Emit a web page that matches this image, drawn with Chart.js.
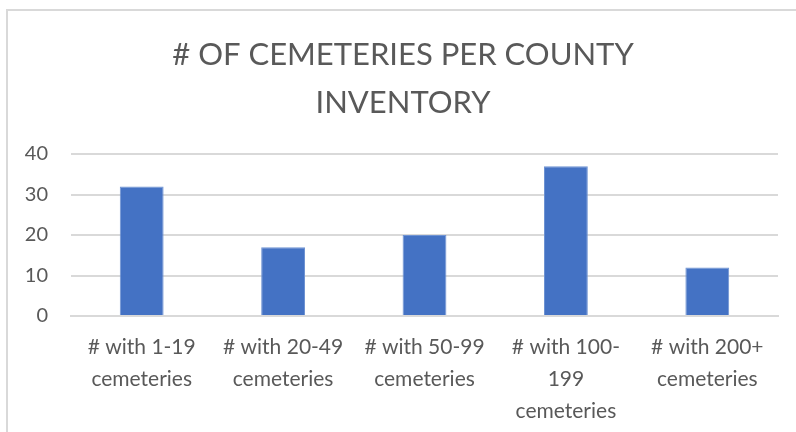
<!DOCTYPE html>
<html>
<head>
<meta charset="utf-8">
<script src="https://cdn.jsdelivr.net/npm/chart.js@4"></script>
<style>
  html, body { margin: 0; padding: 0; background: #ffffff; }
  #wrap { position: relative; width: 796px; height: 432px; overflow: hidden; }
  #frame { position: absolute; left: 6px; top: 9px; width: 900px; height: 600px;
           border-left: 2px solid #d9d9d9; border-top: 2px solid #d9d9d9; }
  canvas { position: absolute; left: 0; top: 0; }
</style>
</head>
<body>
<div id="wrap">
  <div id="frame"></div>
  <canvas id="c" width="796" height="432"></canvas>
</div>
<script>
const categories = [
  ["# with 1-19", "cemeteries"],
  ["# with 20-49", "cemeteries"],
  ["# with 50-99", "cemeteries"],
  ["# with 100-", "199", "cemeteries"],
  ["# with 200+", "cemeteries"]
];
const counts = [32, 17, 20, 37, 12];
const yTicks = [0, 10, 20, 30, 40];
const titleLines = ["# OF CEMETERIES PER COUNTY", "INVENTORY"];

new Chart(document.getElementById('c'), {
  type: 'bar',
  data: {
    labels: categories,
    datasets: [{
      data: counts,
      backgroundColor: '#4472C4',
      borderColor: '#6f93d3',
      borderWidth: 1,
      categoryPercentage: 1.0,
      barPercentage: 0.31
    }]
  },
  options: {
    responsive: false,
    animation: false,
    devicePixelRatio: 1,
    layout: { padding: { left: 10, right: 0, top: 0, bottom: 0 } },
    plugins: {
      legend: { display: false },
      tooltip: { enabled: false },
      title: {
        display: true,
        text: titleLines,
        color: '#595959',
        font: { family: 'Lato', size: 31, weight: 'normal', lineHeight: '48px' },
        padding: { top: 31, bottom: 27 }
      }
    },
    scales: {
      x: {
        grid: { display: false, drawTicks: false },
        border: { display: true, color: '#d9d9d9', width: 2 },
        ticks: {
          color: '#595959',
          font: { family: 'Lato', size: 21, lineHeight: '32px' },
          padding: 15,
          maxRotation: 0,
          autoSkip: false
        },
        afterFit: (s) => { s.height = 116; }
      },
      y: {
        min: 0,
        max: 40,
        afterBuildTicks: (s) => { s.ticks = yTicks.map(v => ({ value: v })); },
        grid: { color: '#d9d9d9', lineWidth: 2, drawTicks: false },
        border: { display: false },
        ticks: {
          color: '#595959',
          font: { family: 'Lato', size: 20 },
          padding: 23
        },
        afterFit: (s) => { s.width = 61; }
      },
      yR: {
        position: 'right',
        display: true,
        grid: { display: false, drawTicks: false },
        border: { display: false },
        ticks: { display: false },
        afterFit: (s) => { s.width = 18; }
      }
    }
  }
});
</script>
</body>
</html>
